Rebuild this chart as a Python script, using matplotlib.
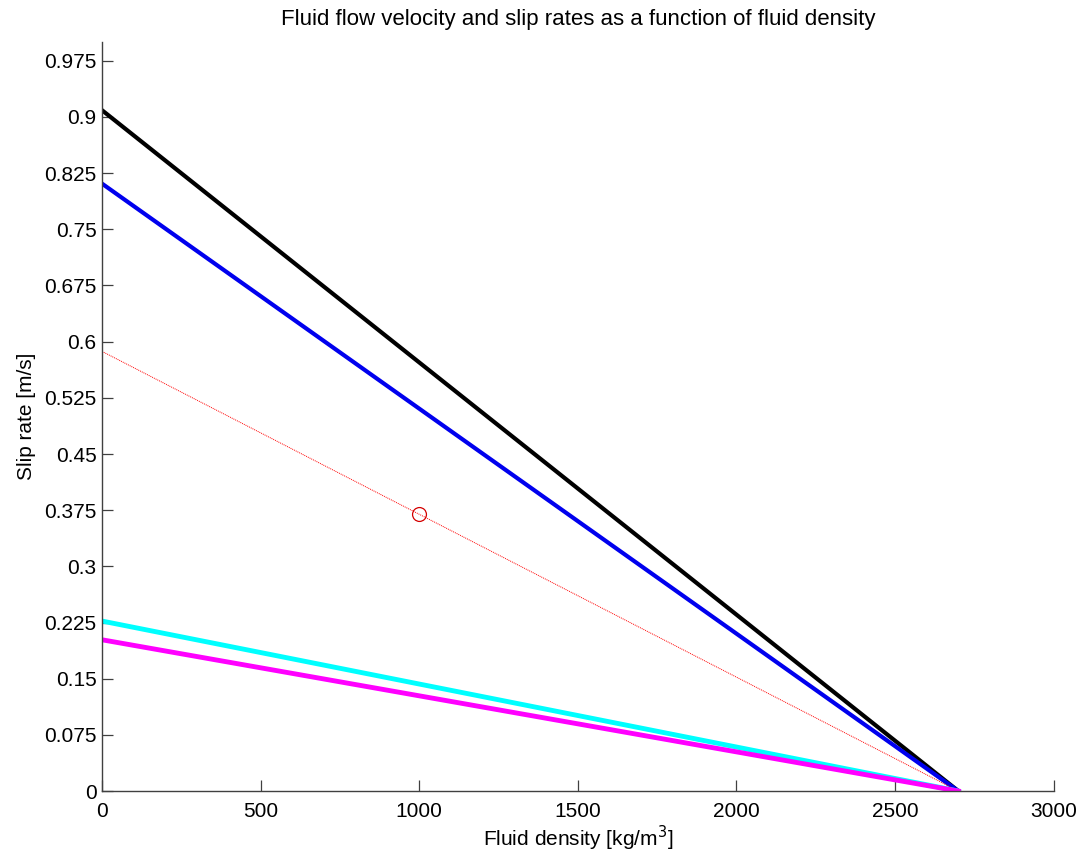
import numpy as np
import matplotlib.pyplot as plt

plt.rcParams['font.family'] = ['Liberation Sans', 'DejaVu Sans']

# fluid density [kg/m^3] end points, all lines reach zero at rock density
density = [0, 2700]
black_rate = [0.909, 0.0]
blue_rate = [0.811, 0.0]
red_rate = [0.587, 0.0]
cyan_rate = [0.227, 0.0]
magenta_rate = [0.202, 0.0]

# marked point
mark_density = [1000]
mark_rate = [0.370]

y_ticks = np.arange(0, 1.0, 0.075)
y_labels = ['0', '0.075', '0.15', '0.225', '0.3', '0.375', '0.45', '0.525',
            '0.6', '0.675', '0.75', '0.825', '0.9', '0.975']
x_ticks = [0, 500, 1000, 1500, 2000, 2500, 3000]


def make_plot():
    fig = plt.figure(figsize=(10.85, 8.58), dpi=100)
    ax = fig.add_axes([0.094, 0.078, 0.877, 0.873])

    ax.plot(density, black_rate, color='black', lw=3)
    ax.plot(density, blue_rate, color='#0000ee', lw=3)
    ax.plot(density, red_rate, color='red', lw=0.7, ls=(0, (1, 1)))
    ax.plot(mark_density, mark_rate, 'o', mfc='none', mec='#d40000', ms=10, mew=0.9)
    ax.plot(density, cyan_rate, color='cyan', lw=3.5)
    ax.plot(density, magenta_rate, color='magenta', lw=3.5)

    ax.set_xlim(0, 3000)
    ax.set_ylim(0, 1.0)
    ax.set_xticks(x_ticks)
    ax.set_xticklabels([str(t) for t in x_ticks])
    ax.set_yticks(y_ticks)
    ax.set_yticklabels(y_labels)

    for s in ['top', 'right']:
        ax.spines[s].set_visible(False)
    for s in ['left', 'bottom']:
        ax.spines[s].set_color('#404040')
        ax.spines[s].set_linewidth(1.0)
    ax.tick_params(direction='in', length=8, width=0.9, color='#404040',
                   labelsize=15, pad=4)
    ax.tick_params(axis='x', pad=8)

    ax.set_xlabel('Fluid density [kg/m$^3$]', fontsize=15, labelpad=2)
    ax.set_ylabel('Slip rate [m/s]', fontsize=15, labelpad=6)
    ax.set_title('Fluid flow velocity and slip rates as a function of fluid density',
                 fontsize=16, pad=12)

    fig.savefig('out.png', dpi=100)


if __name__ == "__main__":
    make_plot()
